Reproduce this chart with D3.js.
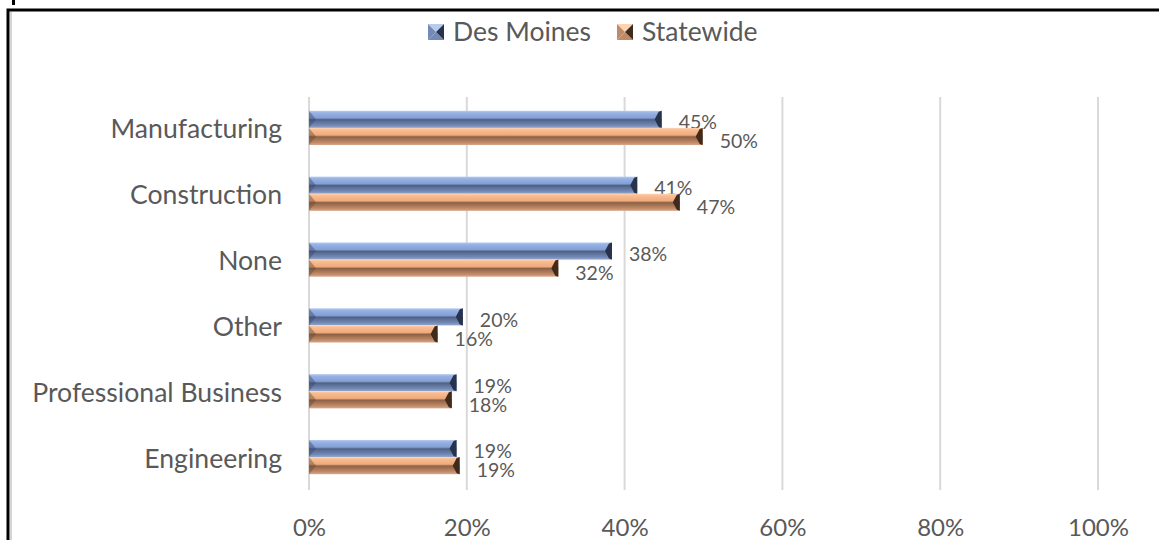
<!DOCTYPE html>
<html><head><meta charset="utf-8">
<script src="https://cdn.jsdelivr.net/npm/d3@7"></script>
<style>
html,body{margin:0;padding:0;background:#fff;}
svg{display:block;}
text{font-family:Lato,"Noto Sans",sans-serif;fill:#595959;}
</style></head>
<body>
<svg id="chart" width="1159" height="540"></svg>
<script>
const categories = ["Manufacturing","Construction","None","Other","Professional Business","Engineering"];
const seriesNames = ["Des Moines","Statewide"];
const desMoines = [0.447,0.416,0.384,0.195,0.187,0.187];
const statewide = [0.499,0.470,0.316,0.163,0.181,0.191];
const desMoinesLabels = ["45%","41%","38%","20%","19%","19%"];
const statewideLabels = ["50%","47%","32%","16%","18%","19%"];
const xTicks = [0,0.2,0.4,0.6,0.8,1.0];
const xTickLabels = ["0%","20%","40%","60%","80%","100%"];

const svg = d3.select("#chart");
const W = 1159, H = 540;

// gradients
const defs = svg.append("defs");
function grad(id, stops){
  const g = defs.append("linearGradient").attr("id",id).attr("x1",0).attr("y1",0).attr("x2",0).attr("y2",1);
  stops.forEach(s=>g.append("stop").attr("offset",s[0]).attr("stop-color",s[1]));
}
grad("gBlue",[[0,"#b9cbee"],[0.12,"#97b2e4"],[0.42,"#849fd4"],[0.52,"#4f6085"],[0.62,"#5b6e95"],[0.85,"#7389b6"],[1,"#97a8cc"]]);
grad("gOrange",[[0,"#fcd4b5"],[0.12,"#f9bc90"],[0.42,"#eeaa7c"],[0.52,"#8c6145"],[0.62,"#9d6e50"],[0.85,"#c18a67"],[1,"#d6a98c"]]);

const colors = {
  "Des Moines":{fill:"url(#gBlue)",cap:"#27324b",light:"#b9cbee",mid:"#7389b6",dark:"#3a4a6e"},
  "Statewide":{fill:"url(#gOrange)",cap:"#3f2a1c",light:"#fcd4b5",mid:"#c18a67",dark:"#6d4a33"}
};

// frame
svg.append("rect").attr("x",12).attr("y",0).attr("width",3).attr("height",5).attr("fill","#000");
svg.append("line").attr("x1",11).attr("x2",11).attr("y1",12).attr("y2",H).attr("stroke","#d4d4d4").attr("stroke-width",2);
svg.append("path").attr("d",`M8,${H} L8,10 L${W},10`).attr("fill","none").attr("stroke","#000").attr("stroke-width",3);

const x = d3.scaleLinear().domain([0,1]).range([309,1098]);
const y = d3.scaleBand().domain(categories).range([95,490]).paddingInner(0.48).paddingOuter(0.24);
const ySub = d3.scaleBand().domain(seriesNames).range([0,y.bandwidth()]);

// gridlines
svg.append("g").selectAll("line").data(xTicks).join("line")
  .attr("x1",d=>x(d)).attr("x2",d=>x(d)).attr("y1",97).attr("y2",490)
  .attr("stroke","#d9d9d9").attr("stroke-width",2);

// x axis labels
const xAxis = d3.axisBottom(x).tickValues(xTicks).tickFormat((d,i)=>xTickLabels[i]).tickSize(0).tickPadding(0);
const gx = svg.append("g").attr("transform","translate(0,519)").call(xAxis);
gx.select(".domain").remove();
gx.selectAll("text").attr("font-size",24).attr("fill","#595959").attr("dy","0.71em").style("font-family","Lato");

// y axis labels
const yAxis = d3.axisLeft(y).tickSize(0).tickPadding(0);
const gy = svg.append("g").attr("transform","translate(282,2)").call(yAxis);
gy.select(".domain").remove();
gy.selectAll("text").attr("font-size",26.6).attr("fill","#595959").style("font-family","Lato");

// bars
const series = [
  {name:"Des Moines", values:desMoines, labels:desMoinesLabels, dy:3},
  {name:"Statewide", values:statewide, labels:statewideLabels, dy:5}
];
series.forEach(s=>{
  const c = colors[s.name];
  const g = svg.append("g");
  const data = categories.map((cat,i)=>({cat, v:s.values[i], lab:s.labels[i]}));
  const h = ySub.bandwidth();
  const yy = d=>y(d.cat)+ySub(s.name);
  g.selectAll("rect").data(data).join("rect")
    .attr("x",x(0)).attr("y",yy).attr("width",d=>x(d.v)-x(0)).attr("height",h)
    .attr("fill",c.fill);
  // left bevel
  g.selectAll("path.lb").data(data).join("path").attr("class","lb")
    .attr("d",d=>{const x0=x(0),y0=yy(d);return `M${x0},${y0} L${x0+7},${y0+h/2} L${x0},${y0+h} Z`;})
    .attr("fill",c.dark).attr("opacity",0.45);
  // right cap
  g.selectAll("path.rc").data(data).join("path").attr("class","rc")
    .attr("d",d=>{const x1=x(d.v),y0=yy(d);return `M${x1},${y0} L${x1-3},${y0+1} L${x1-7},${y0+h/2} L${x1-3},${y0+h-1} L${x1},${y0+h} Z`;})
    .attr("fill",c.cap);
  // labels
  g.selectAll("text").data(data).join("text")
    .attr("x",d=>x(d.v)+17).attr("y",d=>yy(d)+h/2+s.dy).attr("dy","0.35em")
    .attr("font-size",19.5).text(d=>d.lab);
});

// legend
const legendItems = [{name:"Des Moines",x:428,tx:453},{name:"Statewide",x:617,tx:642}];
const lg = svg.append("g");
legendItems.forEach(it=>{
  const c = colors[it.name];
  const s = 16, x0 = it.x, y0 = 24, cx = x0+s/2, cy = y0+s/2;
  lg.append("path").attr("d",`M${x0},${y0} L${x0+s},${y0} L${cx},${cy} Z`).attr("fill",c.light);
  lg.append("path").attr("d",`M${x0},${y0+s} L${x0+s},${y0+s} L${cx},${cy} Z`).attr("fill",c.mid);
  lg.append("path").attr("d",`M${x0},${y0} L${cx},${cy} L${x0},${y0+s} Z`).attr("fill",c.mid);
  lg.append("path").attr("d",`M${x0+s},${y0} L${cx},${cy} L${x0+s},${y0+s} Z`).attr("fill",c.cap);
  lg.append("text").attr("x",it.tx).attr("y",cy).attr("dy","0.35em").attr("font-size",26.5).text(it.name);
});
</script>
</body></html>
